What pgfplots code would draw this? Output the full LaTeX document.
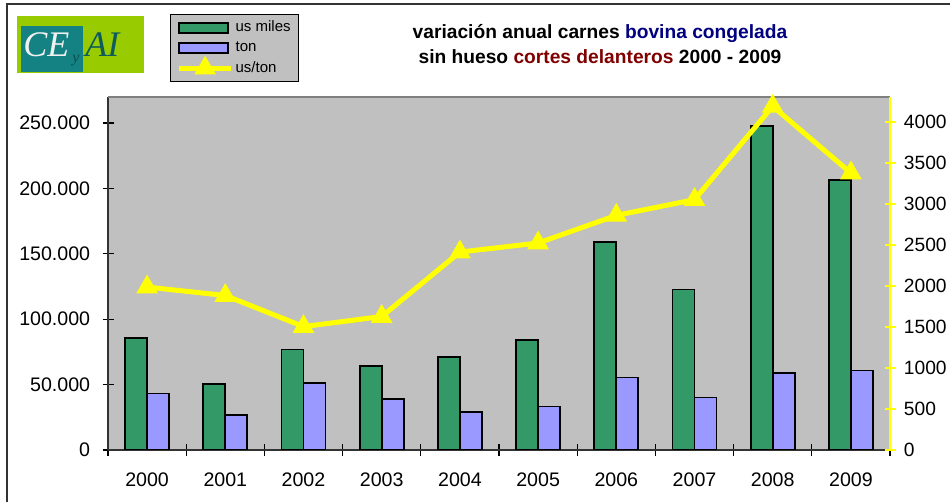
\documentclass[border=0pt]{standalone}
\usepackage{pgfplots}
\pgfplotsset{compat=1.18}
\usepackage{fontspec}
\setmainfont{Liberation Sans}
\newfontfamily\logofont{Liberation Serif}
\definecolor{barg}{RGB}{51,153,102}
\definecolor{barb}{RGB}{153,153,255}
\definecolor{plotbg}{RGB}{192,192,192}
\definecolor{titleblue}{RGB}{0,0,128}
\definecolor{titlered}{RGB}{128,0,0}
\definecolor{logolime}{RGB}{153,204,0}
\definecolor{logoteal}{RGB}{20,130,130}
\definecolor{ylw}{RGB}{255,255,0}
\pgfplotsset{
  barleg/.style={legend image code/.code={\draw[##1,line width=0.9pt] (0pt,-2.5pt) rectangle (24.5pt,2.5pt);}},
  lineleg/.style={legend image code/.code={\draw[mark repeat=2,mark phase=2,##1] plot coordinates {(0pt,0pt)(13pt,0pt)(26pt,0pt)};}},
}
\pgfplotstableread{
x usmiles ton uston
0 85700 43200 1987
1 50400 26900 1884
2 76900 51100 1505
3 64200 39100 1628
4 70800 29100 2414
5 83800 33200 2524
6 159300 55500 2861
7 122700 40100 3053
8 247500 59000 4192
9 206500 60800 3378
}\datatab
\begin{document}
\begin{tikzpicture}
\useasboundingbox (0,0) rectangle (475pt,251pt);
\draw[line width=1pt, black!80] (3.65pt,-5pt) -- (3.65pt,248.75pt) -- (480pt,248.75pt);
% logo
\fill[logolime] (8.5pt,214.65pt) rectangle (72pt,243.15pt);
\fill[logoteal] (10.35pt,215.15pt) rectangle (41.35pt,238.15pt);
\node[anchor=base west, inner sep=0pt, text=gray!12, font=\logofont\itshape\fontsize{18}{18}\selectfont] at (11.5pt,222.5pt) {CE};
\node[anchor=base west, inner sep=0pt, text=logoteal!60!black, font=\logofont\itshape\fontsize{8}{8}\selectfont] at (36pt,219.5pt) {y};
\node[anchor=base west, inner sep=0pt, text=logoteal!70!black, font=\logofont\itshape\fontsize{18}{18}\selectfont] at (42.5pt,222.5pt) {AI};
% title
\node[anchor=base, font=\bfseries\fontsize{9.6}{11}\selectfont, inner sep=0pt] at (300pt,231.5pt) {variación anual carnes \textcolor{titleblue}{bovina congelada}};
\node[anchor=base, font=\bfseries\fontsize{9.6}{11}\selectfont, inner sep=0pt] at (300pt,219pt) {sin hueso \textcolor{titlered}{cortes delanteros} 2000 - 2009};
\begin{axis}[
  at={(54pt,26pt)}, anchor=south west, scale only axis, width=391pt, height=176.5pt,
  xmin=-0.5, xmax=9.5, ymin=0, ymax=269900,
  axis x line*=bottom, axis y line*=left,
  axis line style={-, draw=black!80, line width=0.9pt},
  axis background/.style={fill=plotbg},
  ybar=0pt, bar width=11pt,
  xtick={0,1,2,3,4,5,6,7,8,9},
  xticklabels={2000,2001,2002,2003,2004,2005,2006,2007,2008,2009},
  major x tick style={draw=none},
  minor xtick={-0.5,0.5,1.5,2.5,3.5,4.5,5.5,6.5,7.5,8.5,9.5},
  minor tick length=6pt,
  ytick={0,50000,100000,150000,200000,250000},
  yticklabels={0,50.000,100.000,150.000,200.000,250.000},
  major tick length=5.5pt, tick align=center,
  tick style={black, line width=0.6pt},
  scaled y ticks=false,
  tick label style={font=\fontsize{9.8}{12}\selectfont},
  yticklabel style={anchor=east, inner sep=0pt, xshift=-6pt},
  xticklabel style={anchor=base, inner sep=0pt, yshift=-15.3pt},
]
\addplot[fill=barg, draw=black, line width=0.9pt] table[x=x,y=usmiles] {\datatab};
\addplot[fill=barb, draw=black, line width=0.9pt] table[x=x,y=ton] {\datatab};
\end{axis}
\begin{axis}[
  at={(54pt,26pt)}, anchor=south west, scale only axis, width=391pt, height=176.5pt,
  xmin=-0.5, xmax=9.5, ymin=0, ymax=4305,
  axis x line*=top, xtick=\empty,
  axis y line*=right,
  x axis line style={-, draw=gray, line width=0.9pt},
  y axis line style={-, draw=ylw, line width=0.9pt},
  ytick={0,500,1000,1500,2000,2500,3000,3500,4000},
  yticklabels={0,500,1000,1500,2000,2500,3000,3500,4000},
  major tick length=5.5pt, tick align=center,
  ytick style={draw=ylw, line width=0.6pt},
  tick label style={font=\fontsize{9.6}{12}\selectfont},
  yticklabel style={anchor=west, inner sep=0pt, xshift=4pt},
  clip=false,
  legend style={at={(axis description cs:0.0793,1.235)}, anchor=north west,
    draw=black, line width=0.6pt, fill=plotbg,
    font=\fontsize{7.5}{8}\selectfont, inner xsep=3pt, inner ysep=1.5pt,
    row sep=0pt, nodes={inner ysep=1.7pt, inner xsep=1pt}},
  legend cell align=left,
]
\addlegendimage{barleg, fill=barg, draw=black}
\addlegendentry{us miles}
\addlegendimage{barleg, fill=barb, draw=black}
\addlegendentry{ton}
\addplot[ylw, line width=2.5pt, mark=triangle*, mark size=3.75pt, lineleg] table[x=x,y=uston] {\datatab};
\addlegendentry{us/ton}
\end{axis}
\end{tikzpicture}
\end{document}
